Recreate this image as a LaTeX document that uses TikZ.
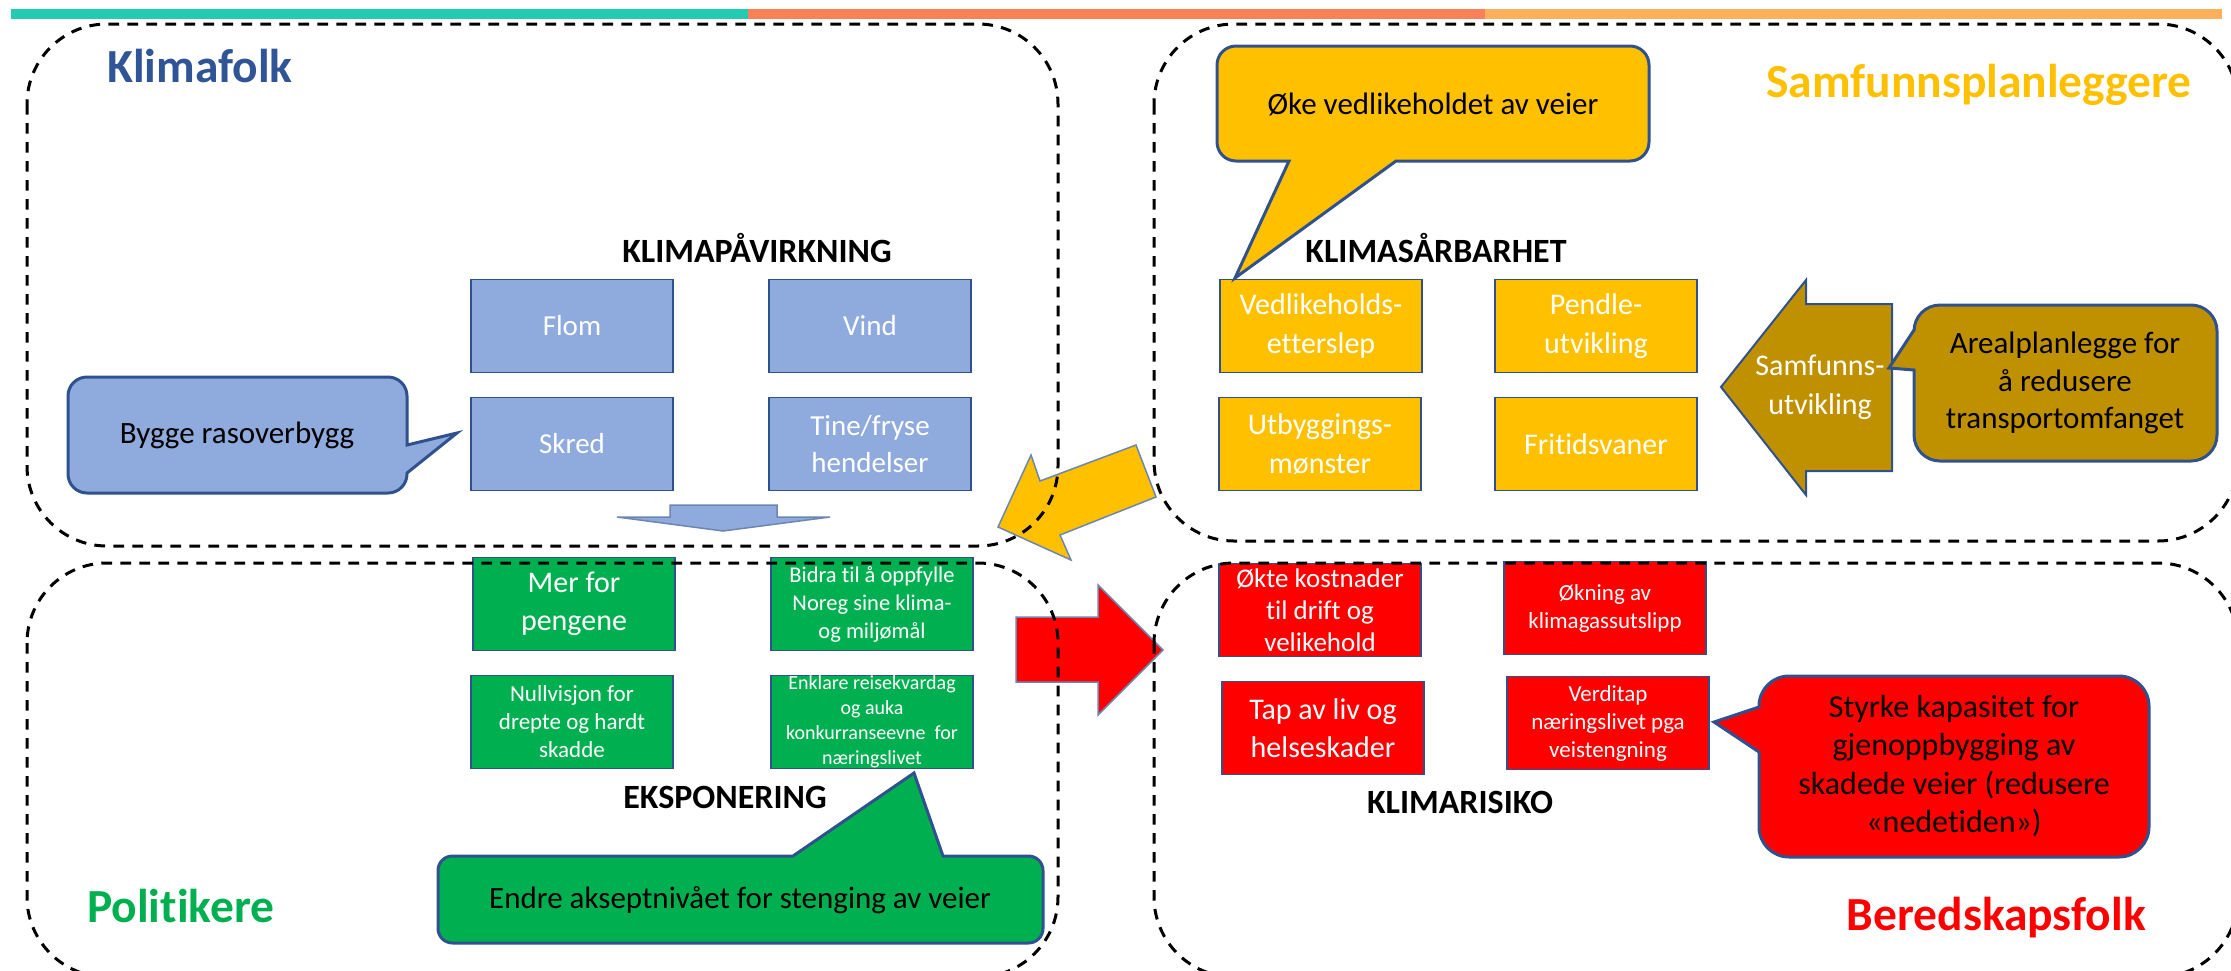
\documentclass[tikz,border=0pt]{standalone}
\usepackage{fontspec}
\setmainfont{Carlito}[Ligatures=NoCommon]
\definecolor{boxblue}{HTML}{8FAADC}
\definecolor{boxgold}{HTML}{FFC000}
\definecolor{boxgreen}{HTML}{00B050}
\definecolor{boxred}{HTML}{FF0000}
\definecolor{darkgold}{HTML}{BF9000}
\definecolor{edge}{HTML}{2F528F}
\definecolor{titleblue}{HTML}{2F5597}
\definecolor{barteal}{HTML}{22CBB2}
\definecolor{barorange}{HTML}{FA8157}
\definecolor{barlight}{HTML}{FDB05B}
\newcommand{\fsz}[2]{\fontsize{#1}{#2}\selectfont}
\tikzset{
  group/.style={draw=black, line width=3pt, dash pattern=on 10.7pt off 8.3pt, rounded corners=80pt},
  cell/.style={draw=edge, line width=1.5pt, minimum width=202pt, minimum height=93pt, inner sep=0pt, align=center, text=white},
  heading/.style={font=\bfseries\fsz{34}{40}, anchor=base, inner sep=0pt},
  role/.style={font=\bfseries\fsz{47.5}{56}, inner sep=0pt},
  bubble/.style={draw=edge, line width=3pt},
  bubbletext/.style={align=center, font=\fsz{31}{37.5}},
  bigarrow/.style={draw=edge!70, line width=1.5pt}
}
\begin{document}
\begin{tikzpicture}[x=1pt,y=-1pt]
\useasboundingbox (0,0) rectangle (2231,970);
\fill[barteal] (11,9) rectangle (748,19);
\fill[barorange] (748,9) rectangle (1485,19);
\fill[barlight] (1485,9) rectangle (2222,19);

% block arrows
\draw[bigarrow, fill=boxblue] (670,505) -- (777,505) -- (777,517) -- (830,517) -- (723,531) -- (617,517) -- (670,517) -- cycle;
\draw[bigarrow, fill=boxgold] (1136,445) -- (1156,497) -- (1060,535) -- (1071,560) -- (998,527) -- (1031,455) -- (1040,481) -- cycle;
\draw[bigarrow, fill=boxred] (1016,617) -- (1098,617) -- (1098,585) -- (1163,650) -- (1098,715) -- (1098,682) -- (1016,682) -- cycle;
\draw[draw=edge, line width=2pt, fill=darkgold] (1892,304) -- (1806,304) -- (1806,280) -- (1721,387) -- (1806,495) -- (1806,471) -- (1892,471) -- cycle;
\node[text=white, align=center, font=\fsz{30}{39}] (samf) at (1820,387) {Samfunns-\\utvikling};

% klimapaavirkning
\node[heading] (paavirk) at (757,262) {KLIMAPÅVIRKNING};
\node[cell, fill=boxblue, font=\fsz{29}{37.5}] (flom) at (572,326) {Flom};
\node[cell, fill=boxblue, font=\fsz{29}{37.5}] (vind) at (870,326) {Vind};
\node[cell, fill=boxblue, font=\fsz{29}{37.5}] (skred) at (572,444) {Skred};
\node[cell, fill=boxblue, font=\fsz{29}{37.5}] (tine) at (870,444) {Tine/fryse\\hendelser};

% klimasaarbarhet
\node[heading] (saarbar) at (1436,262) {KLIMASÅRBARHET};
\node[cell, fill=boxgold, font=\fsz{30}{39}] (vedl) at (1321,326) {Vedlikeholds-\\etterslep};
\node[cell, fill=boxgold, font=\fsz{30}{39}] (pendle) at (1596,326) {Pendle-\\utvikling};
\node[cell, fill=boxgold, font=\fsz{30}{39}] (utbygg) at (1320,444) {Utbyggings-\\mønster};
\node[cell, fill=boxgold, font=\fsz{30}{39}] (fritid) at (1596,444) {Fritidsvaner};

% eksponering
\node[heading] (ekspon) at (725,808) {EKSPONERING};
\node[cell, fill=boxgreen, font=\fsz{30}{38}] (mer) at (574,604) {Mer for\\pengene};
\node[cell, fill=boxgreen, font=\fsz{22.5}{28}] (bidra) at (872,604) {Bidra til å oppfylle\\Noreg sine klima-\\og miljømål};
\node[cell, fill=boxgreen, font=\fsz{23}{28}] (null) at (572,722) {Nullvisjon for\\drepte og hardt\\skadde};
\node[cell, fill=boxgreen] (enkl) at (872,722) {};
\node[text=white, align=center, font=\fsz{20}{25}] at (enkl) {Enklare reisekvardag\\og auka\\konkurranseevne\ \ for\\næringslivet};

% klimarisiko
\node[heading] (risiko) at (1460,813) {KLIMARISIKO};
\node[cell, fill=boxred, font=\fsz{27}{32}] (okte) at (1320,610) {Økte kostnader\\til drift og\\velikehold};
\node[cell, fill=boxred, font=\fsz{23}{28}] (okning) at (1605,608) {Økning av\\klimagassutslipp};
\node[cell, fill=boxred, font=\fsz{30}{38}] (tap) at (1323,728) {Tap av liv og\\helseskader};
\node[cell, fill=boxred, font=\fsz{23}{28}] (verdi) at (1608,723) {Verditap\\næringslivet pga\\veistengning};

% callouts
\draw[bubble, fill=boxblue] (87,377) -- (388,377) arc[start angle=-90,end angle=0,radius=19] -- (407,445) -- (457,433) -- (407,473) -- (407,474) arc[start angle=0,end angle=90,radius=19] -- (87,493) arc[start angle=90,end angle=180,radius=19] -- (68,396) arc[start angle=180,end angle=270,radius=19] -- cycle;
\node[bubbletext] (bygge) at (237,435) {Bygge rasoverbygg};
\draw[bubble, fill=boxgold] (1236,46) -- (1630,46) arc[start angle=-90,end angle=0,radius=19] -- (1649,142) arc[start angle=0,end angle=90,radius=19] -- (1396,161) -- (1235,278) -- (1289,161) -- (1236,161) arc[start angle=90,end angle=180,radius=19] -- (1217,65) arc[start angle=180,end angle=270,radius=19] -- cycle;
\node[bubbletext] (oke) at (1433,104) {Øke vedlikeholdet av veier};
\draw[bubble, fill=darkgold] (1940,305) -- (2191,305) arc[start angle=-90,end angle=0,radius=26] -- (2217,435) arc[start angle=0,end angle=90,radius=26] -- (1940,461) arc[start angle=90,end angle=180,radius=26] -- (1914,370) -- (1889,368) -- (1914,330) -- (1914,331) arc[start angle=180,end angle=270,radius=26] -- cycle;
\node[bubbletext] (areal) at (2065,383) {Arealplanlegge for\\å redusere\\transportomfanget};
\draw[bubble, fill=boxred] (1789,676) -- (2119,676) arc[start angle=-90,end angle=0,radius=30] -- (2149,827) arc[start angle=0,end angle=90,radius=30] -- (1789,857) arc[start angle=90,end angle=180,radius=30] -- (1759,752) -- (1714,722) -- (1759,707) -- (1759,706) arc[start angle=180,end angle=270,radius=30] -- cycle;
\node[bubbletext, font=\fsz{32}{38.5}] (styrke) at (1954,766) {Styrke kapasitet for\\gjenoppbygging av\\skadede veier (redusere\\«nedetiden»)};
\draw[bubble, fill=boxgreen] (452.5,856) -- (793,856) -- (914,773) -- (943,856) -- (1028.5,856) arc[start angle=-90,end angle=0,radius=14.5] -- (1043,928.5) arc[start angle=0,end angle=90,radius=14.5] -- (452.5,943) arc[start angle=90,end angle=180,radius=14.5] -- (438,870.5) arc[start angle=180,end angle=270,radius=14.5] -- cycle;
\node[bubbletext] (endre) at (740,900) {Endre akseptnivået for stenging av veier};

% roles
\node[role, text=titleblue, anchor=base west] (klimafolk) at (107,82) {Klimafolk};
\node[role, text=boxgold, anchor=base east] (planleggere) at (2192,97) {Samfunnsplanleggere};
\node[role, text=boxgreen, anchor=base west] (politikere) at (87,922) {Politikere};
\node[role, text=boxred, anchor=base east] (beredskap) at (2146,930) {Beredskapsfolk};

% groups
\draw[group] (27,24) rectangle (1058,546);
\draw[group] (1154,24) rectangle (2238,541);
\draw[group] (27,563) rectangle (1058,977);
\draw[group] (1154,563) rectangle (2238,977);
\end{tikzpicture}
\end{document}
